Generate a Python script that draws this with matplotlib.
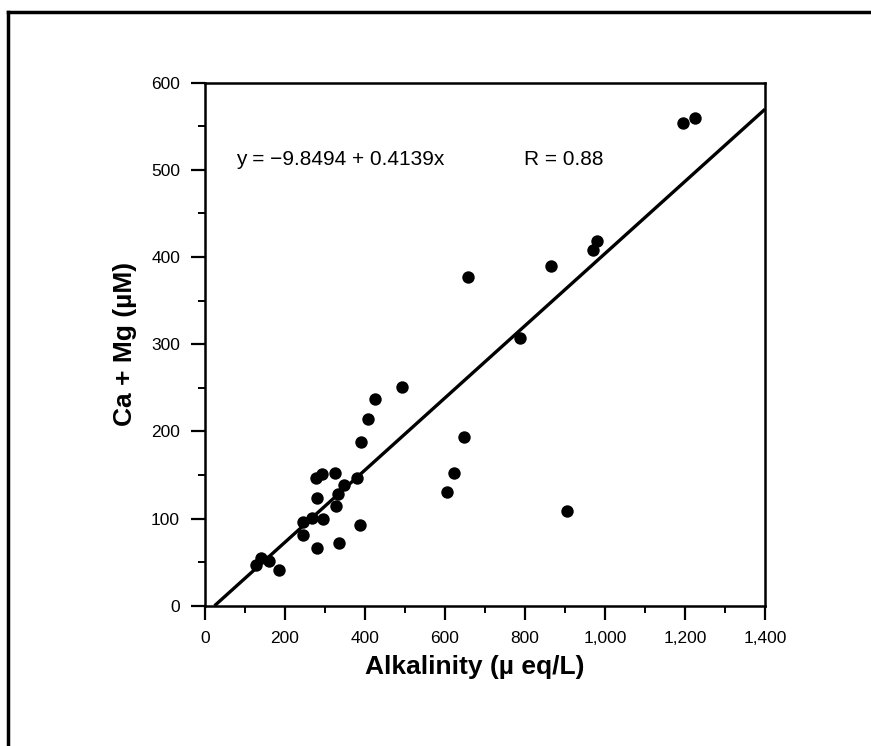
'''Ca + Mg versus alkalinity scatter with regression line.'''
import matplotlib
matplotlib.use('Agg')
import matplotlib.pyplot as plt
from matplotlib.lines import Line2D
import numpy as np

plt.rcParams['font.family'] = ['Liberation Sans', 'DejaVu Sans']

# data
alkalinity = [127, 139, 161, 186, 246, 246, 267, 296, 279, 279, 278, 293,
              325, 328, 333, 348, 379, 336, 388, 389, 408, 425, 492, 606,
              622, 648, 658, 787, 865, 904, 971, 981, 1194, 1225]
ca_mg = [47, 55, 51, 41, 96, 81, 101, 99, 66, 124, 146, 151,
         152, 115, 128, 138, 146, 72, 93, 188, 214, 237, 251, 130,
         152, 194, 377, 307, 390, 109, 408, 419, 554, 559]

intercept = -9.8494
slope = 0.4139
r_value = 0.88

x_ticks = [0, 200, 400, 600, 800, 1000, 1200, 1400]
x_labels = ['0', '200', '400', '600', '800', '1,000', '1,200', '1,400']
y_ticks = [0, 100, 200, 300, 400, 500, 600]

fig = plt.figure(figsize=(8.71, 7.46), dpi=100)
ax = fig.add_axes([0.2354, 0.188, 0.6429, 0.7011])

ax.scatter(alkalinity, ca_mg, s=80, color='black', zorder=3, linewidths=0)

x0 = -intercept / slope
xs = np.array([x0, 1400])
ax.plot(xs, intercept + slope * xs, color='black', linewidth=2.4,
        solid_capstyle='butt', clip_on=False)

ax.set_xlim(0, 1400)
ax.set_ylim(0, 600)
ax.set_xticks(x_ticks)
ax.set_xticklabels(x_labels)
ax.set_xticks(np.arange(100, 1400, 200), minor=True)
ax.set_yticks(y_ticks)
ax.set_yticks(np.arange(50, 600, 100), minor=True)
ax.tick_params(which='major', direction='out', length=10, width=1.6,
               labelsize=12.5, pad=8)
ax.tick_params(which='minor', direction='out', length=5, width=1.4)
for s in ax.spines.values():
    s.set_linewidth(1.8)

ax.set_xlabel('Alkalinity (µ eq/L)', fontsize=19, fontweight='bold', labelpad=8)
ax.xaxis.set_label_coords(0.482, -0.095)
ax.set_ylabel('Ca + Mg (µM)', fontsize=19, fontweight='bold', labelpad=10)

ax.text(78, 512, 'y = \u22129.8494 + %.4fx' % slope, fontsize=15, va='center')
ax.text(797, 512, 'R = %.2f' % r_value, fontsize=15, va='center')

# outer frame of the scanned panel
fig.add_artist(Line2D([8 / 871, 1.0], [1 - 12 / 746, 1 - 12 / 746],
                      color='black', linewidth=2.5))
fig.add_artist(Line2D([8 / 871, 8 / 871], [0.0, 1 - 12 / 746],
                      color='black', linewidth=2.5))

plt.savefig('out.png', dpi=100)
